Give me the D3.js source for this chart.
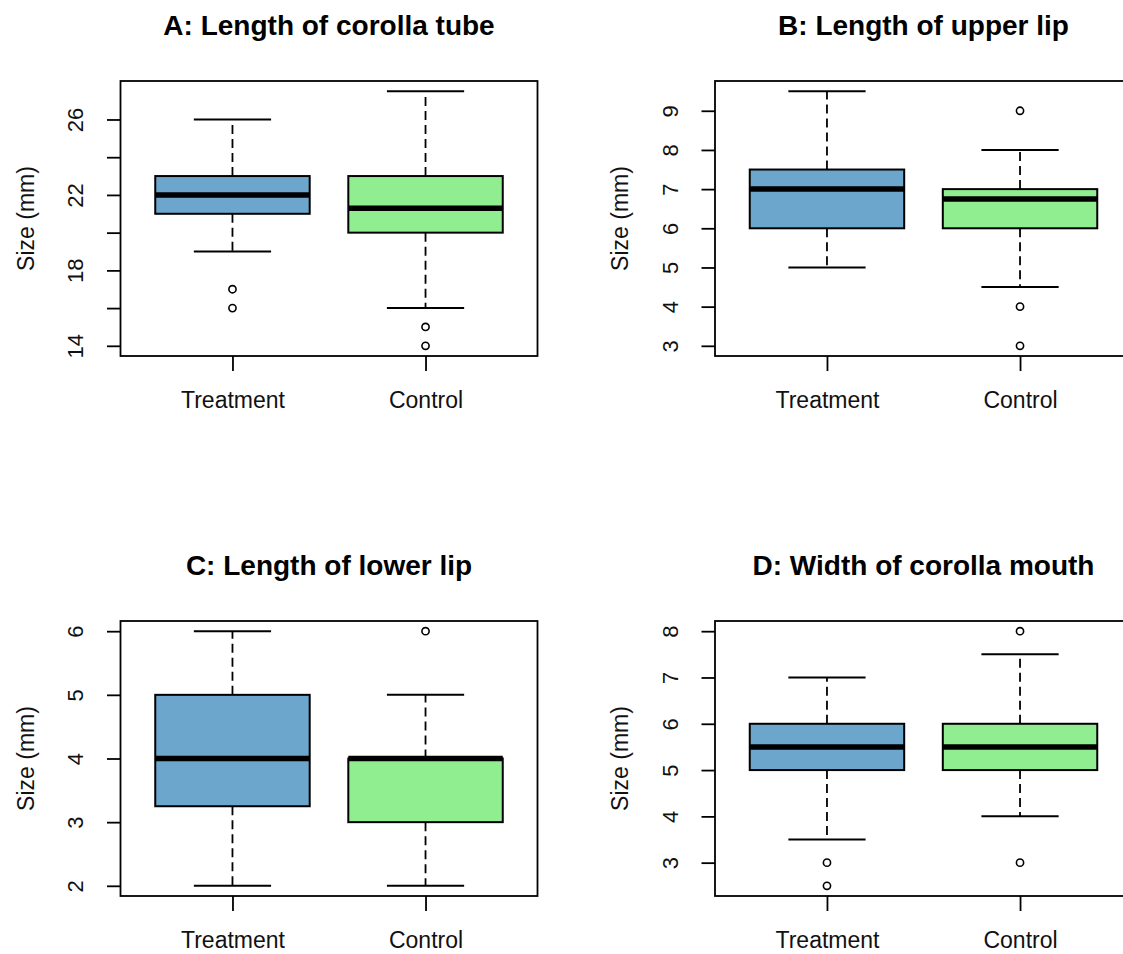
<!DOCTYPE html>
<html>
<head>
<meta charset="utf-8">
<script src="https://cdn.jsdelivr.net/npm/d3@7"></script>
<style>
  body { margin: 0; background: #fff; }
  svg { display: block; font-family: "Liberation Sans", Arial, sans-serif; }
</style>
</head>
<body>
<svg id="chart" width="1123" height="954"></svg>
<script>
// data: [lower whisker, Q1, median, Q3, upper whisker]
var groups = ['Treatment', 'Control'];
var titles = ['A: Length of corolla tube', 'B: Length of upper lip', 'C: Length of lower lip', 'D: Width of corolla mouth'];

var tubeTreatment = [19, 21, 22, 23, 26];
var tubeControl = [16, 20, 21.3, 23, 27.5];
var tubeOutTreatment = [17, 16];
var tubeOutControl = [15, 14];
var tubeTicks = [14, 16, 18, 20, 22, 24, 26];
var tubeLabels = [14, 18, 22, 26];

var upperTreatment = [5, 6, 7, 7.5, 9.5];
var upperControl = [4.5, 6, 6.75, 7, 8];
var upperOutTreatment = [];
var upperOutControl = [9, 4, 3];
var upperTicks = [3, 4, 5, 6, 7, 8, 9];
var upperLabels = [3, 4, 5, 6, 7, 8, 9];

var lowerTreatment = [2, 3.25, 4, 5, 6];
var lowerControl = [2, 3, 4, 4, 5];
var lowerOutTreatment = [];
var lowerOutControl = [6];
var lowerTicks = [2, 3, 4, 5, 6];
var lowerLabels = [2, 3, 4, 5, 6];

var mouthTreatment = [3.5, 5, 5.5, 6, 7];
var mouthControl = [4, 5, 5.5, 6, 7.5];
var mouthOutTreatment = [3, 2.5];
var mouthOutControl = [8, 3];
var mouthTicks = [3, 4, 5, 6, 7, 8];
var mouthLabels = [3, 4, 5, 6, 7, 8];

var colors = ['#6CA6CD', '#90EE90'];

// layout (the right column is cut off by the picture edge, like the original)
var panelOffsets = [[0, 0], [594.5, 0], [0, 540], [594.5, 540]];
var plotLeft = 120.5;
var plotTop = 81;
var plotW = 417;
var plotH = 275;

var panels = [
  { stats: [tubeTreatment, tubeControl], out: [tubeOutTreatment, tubeOutControl], ticks: tubeTicks, labels: tubeLabels },
  { stats: [upperTreatment, upperControl], out: [upperOutTreatment, upperOutControl], ticks: upperTicks, labels: upperLabels },
  { stats: [lowerTreatment, lowerControl], out: [lowerOutTreatment, lowerOutControl], ticks: lowerTicks, labels: lowerLabels },
  { stats: [mouthTreatment, mouthControl], out: [mouthOutTreatment, mouthOutControl], ticks: mouthTicks, labels: mouthLabels }
];

var svg = d3.select('#chart');

panels.forEach(function(p, k) {
  var g = svg.append('g')
    .attr('transform', 'translate(' + panelOffsets[k][0] + ',' + panelOffsets[k][1] + ')');

  // R style range: data extent plus 4% each side
  var all = d3.merge(p.stats).concat(d3.merge(p.out));
  var lo = d3.min(all), hi = d3.max(all);
  var pad = (hi - lo) * 0.04;

  var y = d3.scaleLinear().domain([lo - pad, hi + pad]).range([plotTop + plotH, plotTop]);
  var x = d3.scaleLinear().domain([0.42, 2.58]).range([plotLeft, plotLeft + plotW]);

  // title
  g.append('text')
    .attr('x', plotLeft + plotW / 2)
    .attr('y', 35)
    .attr('text-anchor', 'middle')
    .style('font-size', '28px')
    .style('font-weight', 'bold')
    .style('fill', '#000')
    .text(titles[k]);

  // y label
  g.append('text')
    .attr('transform', 'translate(33.5,' + (plotTop + plotH / 2) + ') rotate(-90)')
    .attr('text-anchor', 'middle')
    .style('font-size', '23px')
    .style('fill', '#111')
    .text('Size (mm)');

  // boxes
  p.stats.forEach(function(s, i) {
    var c = i + 1;
    var bx = g.append('g');

    // whiskers
    bx.selectAll('.whisker')
      .data([[s[3], s[4]], [s[1], s[0]]])
      .enter()
      .append('line')
      .attr('x1', x(c)).attr('x2', x(c))
      .attr('y1', function(d) { return y(d[0]); })
      .attr('y2', function(d) { return y(d[1]); })
      .style('stroke', '#000')
      .style('stroke-width', 1.8)
      .style('stroke-dasharray', '9,5');

    // caps
    bx.selectAll('.cap')
      .data([s[0], s[4]])
      .enter()
      .append('line')
      .attr('x1', x(c - 0.2)).attr('x2', x(c + 0.2))
      .attr('y1', function(d) { return y(d); })
      .attr('y2', function(d) { return y(d); })
      .style('stroke', '#000')
      .style('stroke-width', 2);

    bx.append('rect')
      .attr('x', x(c - 0.4))
      .attr('y', y(s[3]))
      .attr('width', x(c + 0.4) - x(c - 0.4))
      .attr('height', y(s[1]) - y(s[3]))
      .style('fill', colors[i])
      .style('stroke', '#000')
      .style('stroke-width', 2);

    bx.append('line')
      .attr('x1', x(c - 0.4)).attr('x2', x(c + 0.4))
      .attr('y1', y(s[2])).attr('y2', y(s[2]))
      .style('stroke', '#000')
      .style('stroke-width', 5.5);

    bx.selectAll('.outlier')
      .data(p.out[i])
      .enter()
      .append('circle')
      .attr('cx', x(c))
      .attr('cy', function(d) { return y(d); })
      .attr('r', 3.6)
      .style('fill', 'none')
      .style('stroke', '#000')
      .style('stroke-width', 1.6);
  });

  // frame
  g.append('rect')
    .attr('x', plotLeft).attr('y', plotTop)
    .attr('width', plotW).attr('height', plotH)
    .style('fill', 'none')
    .style('stroke', '#000')
    .style('stroke-width', 1.8);

  // y axis
  var yAxis = g.append('g')
    .attr('transform', 'translate(' + plotLeft + ',0)')
    .call(d3.axisLeft(y)
      .tickValues(p.ticks)
      .tickSize(13.5)
      .tickFormat(function(d) { return p.labels.indexOf(d) >= 0 ? d : ''; }));
  yAxis.select('.domain').remove();
  yAxis.selectAll('line').style('stroke', '#000').style('stroke-width', 1.8);
  yAxis.selectAll('text')
    .attr('transform', 'rotate(-90)')
    .attr('x', 0).attr('y', -37.5).attr('dy', null)
    .attr('text-anchor', 'middle')
    .style('font-size', '22px')
    .style('font-family', '"Liberation Sans", Arial, sans-serif')
    .style('fill', '#111');

  // x axis
  var xAxis = g.append('g')
    .attr('transform', 'translate(0,' + (plotTop + plotH) + ')')
    .call(d3.axisBottom(x)
      .tickValues([1, 2])
      .tickSize(15)
      .tickFormat(function(d) { return groups[d - 1]; }));
  xAxis.select('.domain').remove();
  xAxis.selectAll('line').style('stroke', '#000').style('stroke-width', 1.8);
  xAxis.selectAll('text')
    .attr('y', 52).attr('dy', null)
    .style('font-size', '23px')
    .style('font-family', '"Liberation Sans", Arial, sans-serif')
    .style('fill', '#111');
});
</script>
</body>
</html>
